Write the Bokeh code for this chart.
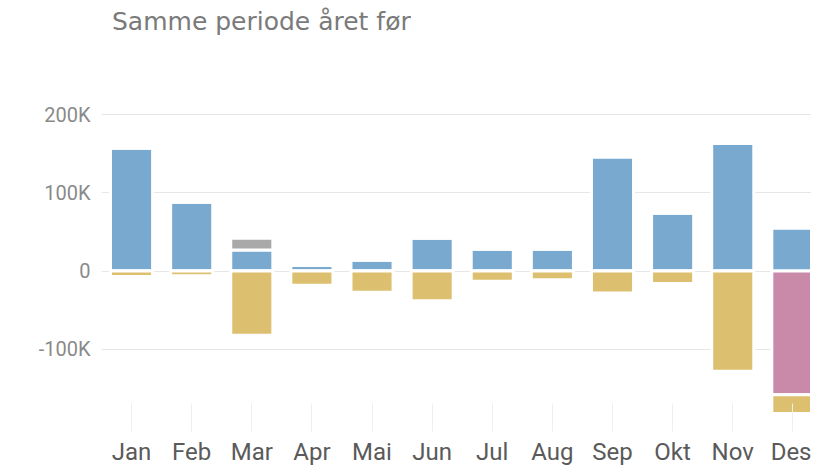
from bokeh.plotting import figure
from bokeh.models import Range1d, FixedTicker, ColumnDataSource, Div
from bokeh.layouts import column
from bokeh.embed import file_html
from bokeh.resources import INLINE

months = ["Jan", "Feb", "Mar", "Apr", "Mai", "Jun", "Jul", "Aug", "Sep", "Okt", "Nov", "Des"]
blue_pos = [157000, 88000, 27000, 7000, 14000, 42000, 28000, 28000, 146000, 74000, 163000, 55000]
gray_pos = [0, 0, 15000, 0, 0, 0, 0, 0, 0, 0, 0, 0]
pink_neg = [0, 0, 0, 0, 0, 0, 0, 0, 0, 0, 0, -158000]
beige_neg = [-7000, -6000, -82000, -18000, -27000, -38000, -13000, -11000, -28000, -16000, -128000, -24000]
y_ticks = [-100000, 0, 100000, 200000]
y_tick_labels = ["-100K", "0", "100K", "200K"]
title_text = "Samme periode året før"

xs = list(range(len(months)))
gray_top = [b + g for b, g in zip(blue_pos, gray_pos)]
beige_bot = [p + b for p, b in zip(pink_neg, beige_neg)]

src = ColumnDataSource(dict(x=xs, blue_top=blue_pos, zero=[0] * len(months),
                            gray_bot=blue_pos, gray_top=gray_top,
                            pink_bot=pink_neg, beige_top=pink_neg, beige_bot=beige_bot))

title_div = Div(text=title_text, width=811, height=56, margin=0,
                styles={"font-family": "DejaVu Sans", "font-size": "25px",
                        "color": "#7a7a7a", "padding-left": "112px", "padding-top": "7px",
                        "line-height": "1.16", "white-space": "nowrap"})

p = figure(width=811, height=412, output_backend="svg", toolbar_location=None,
           x_range=Range1d(-0.5, 11.31), y_range=Range1d(-205100, 274400),
           min_border_left=101, min_border_right=0, min_border_top=0, min_border_bottom=0,
           margin=0)
p.outline_line_color = None
p.background_fill_color = "white"
p.border_fill_color = "white"

W = 0.7
kw = dict(width=W, line_color="white", line_width=3, source=src)
p.vbar(x="x", bottom="zero", top="blue_top", fill_color="#7aa9d0", **kw)
p.vbar(x="x", bottom="gray_bot", top="gray_top", fill_color="#a9a9a9", **kw)
p.vbar(x="x", bottom="pink_bot", top="zero", fill_color="#c98aaa", **kw)
p.vbar(x="x", bottom="beige_bot", top="beige_top", fill_color="#dcbf6f", **kw)

# y axis
p.yaxis.ticker = FixedTicker(ticks=y_ticks)
p.yaxis.major_label_overrides = {t: l for t, l in zip(y_ticks, y_tick_labels)}
p.yaxis.axis_line_color = None
p.yaxis.major_tick_line_color = None
p.yaxis.minor_tick_line_color = None
p.yaxis.major_label_text_font = "Roboto"
p.yaxis.major_label_text_font_size = "20px"
p.yaxis.major_label_text_color = "#8a8a8a"
p.yaxis.major_label_standoff = 5

# x axis
p.xaxis.ticker = FixedTicker(ticks=xs)
p.xaxis.major_label_overrides = {i: m for i, m in enumerate(months)}
p.xaxis.axis_line_color = None
p.xaxis.major_tick_line_color = "#eeeeee"
p.xaxis.major_tick_in = 28
p.xaxis.major_tick_out = 0
p.xaxis.minor_tick_line_color = None
p.xaxis.major_label_text_font = "Roboto"
p.xaxis.major_label_text_font_size = "24px"
p.xaxis.major_label_text_color = "#5a5a5a"
p.xaxis.major_label_standoff = 6

p.xgrid.grid_line_color = None
p.ygrid.grid_line_color = "#e6e6e6"
p.ygrid.ticker = FixedTicker(ticks=y_ticks)

layout = column(title_div, p, spacing=0, margin=0)
open("out.html", "w").write(file_html(layout, INLINE))
